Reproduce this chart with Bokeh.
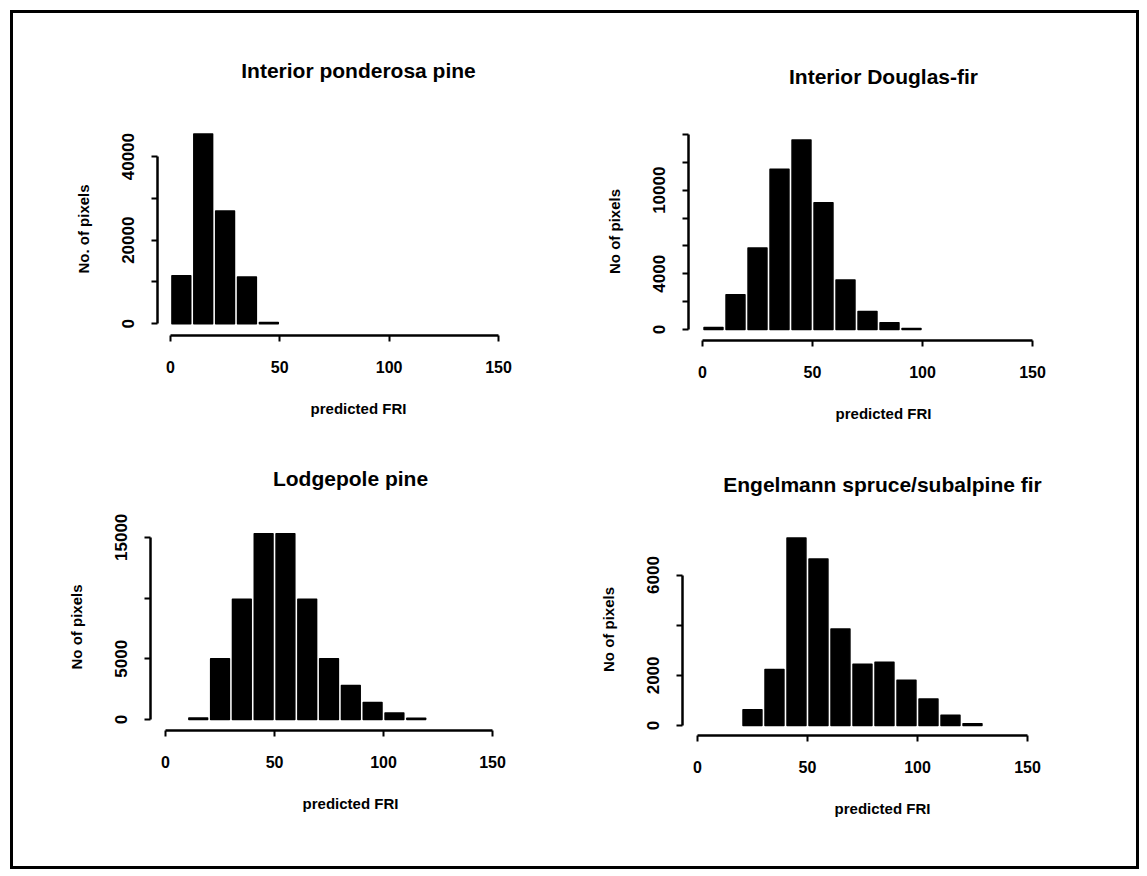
from bokeh.plotting import figure
from bokeh.layouts import column, row
from bokeh.models import FixedTicker, Range1d
from bokeh.embed import file_html
from bokeh.resources import INLINE

# ---- data ----
bin_width = 10
x_ticks = [0, 50, 100, 150]

pp_title = "Interior ponderosa pine"
pp_ylabel = "No. of pixels"
pp_lefts = [0, 10, 20, 30, 40]
pp_counts = [11500, 45400, 27000, 11200, 300]
pp_yticks = [0, 10000, 20000, 30000, 40000]
pp_ylabels = [0, 20000, 40000]

df_title = "Interior Douglas-fir"
df_ylabel = "No of pixels"
df_lefts = [0, 10, 20, 30, 40, 50, 60, 70, 80, 90]
df_counts = [150, 2500, 5850, 11500, 13600, 9100, 3550, 1300, 480, 80]
df_yticks = [0, 2000, 4000, 6000, 8000, 10000, 12000, 14000]
df_ylabels = [0, 4000, 10000]

lp_title = "Lodgepole pine"
lp_ylabel = "No of pixels"
lp_lefts = [10, 20, 30, 40, 50, 60, 70, 80, 90, 100, 110]
lp_counts = [130, 5000, 9900, 15300, 15300, 9900, 5000, 2800, 1400, 540, 100]
lp_yticks = [0, 5000, 10000, 15000]
lp_ylabels = [0, 5000, 15000]

es_title = "Engelmann spruce/subalpine fir"
es_ylabel = "No of pixels"
es_lefts = [20, 30, 40, 50, 60, 70, 80, 90, 100, 110, 120]
es_counts = [630, 2240, 7480, 6640, 3850, 2440, 2520, 1810, 1060, 410, 70]
es_yticks = [0, 2000, 4000, 6000]
es_ylabels = [0, 2000, 6000]

xlabel = "predicted FRI"

FONT = "Liberation Sans"
GAP = 0.7  # visual gap between adjacent bars, in x units


def panel(title, ylabel, lefts, counts, yticks, ylabels, xr, yr, w, h, mb, tstand):
    p = figure(width=w, height=h, x_range=Range1d(*xr), y_range=Range1d(*yr),
               output_backend="svg", toolbar_location=None, title=title,
               min_border_left=mb[0], min_border_right=mb[1],
               min_border_top=mb[2], min_border_bottom=mb[3])
    qleft = [l + GAP for l in lefts]
    qright = [l + bin_width - GAP for l in lefts]
    p.quad(left=qleft, right=qright, bottom=0, top=counts,
           fill_color="black", line_color="black", line_width=1.5,
           line_join="round")
    p.grid.visible = False
    p.outline_line_color = None
    p.background_fill_color = "white"
    p.border_fill_color = "white"

    p.title.text_font = FONT
    p.title.text_font_size = "21px"
    p.title.text_font_style = "bold"
    p.title.align = "center"
    p.title.text_color = "black"
    p.title.standoff = tstand

    for ax in (p.xaxis[0], p.yaxis[0]):
        ax.axis_line_width = 2.5
        ax.axis_line_color = "black"
        ax.major_tick_line_width = 2
        ax.major_tick_line_color = "black"
        ax.major_tick_out = 6
        ax.major_tick_in = 0
        ax.minor_tick_line_color = None
        ax.major_label_text_font = FONT
        ax.major_label_text_font_style = "bold"
        ax.major_label_text_color = "black"
        ax.axis_label_text_font = FONT
        ax.axis_label_text_font_style = "bold"
        ax.axis_label_text_font_size = "15px"
        ax.axis_label_text_color = "black"

    xa = p.xaxis[0]
    xa.bounds = (0, 150)
    xa.ticker = FixedTicker(ticks=x_ticks)
    xa.major_label_text_font_size = "16px"
    xa.major_label_standoff = 19
    xa.axis_label = xlabel
    xa.axis_label_standoff = 24

    ya = p.yaxis[0]
    ya.bounds = (0, yticks[-1])
    ya.ticker = FixedTicker(ticks=yticks)
    ya.major_label_overrides = {t: (str(t) if t in ylabels else "") for t in yticks}
    ya.major_label_orientation = "vertical"
    ya.major_label_text_font_size = "17px"
    ya.major_label_standoff = 17
    ya.axis_label = ylabel
    ya.axis_label_standoff = 28
    return p


p1 = panel(pp_title, pp_ylabel, pp_lefts, pp_counts, pp_yticks, pp_ylabels,
           (-5.9, 177.9), (-2800, 48160), 558, 412, (144, 12, 109, 90), 82)
p2 = panel(df_title, df_ylabel, df_lefts, df_counts, df_yticks, df_ylabels,
           (-6.36, 170.9), (-790, 14860), 565, 417, (117, 58, 109, 90), 70)
p3 = panel(lp_title, lp_ylabel, lp_lefts, lp_counts, lp_yticks, lp_ylabels,
           (-6.9, 176.6), (-900, 16137), 558, 431, (137, 21, 91, 131), 68)
p4 = panel(es_title, es_ylabel, es_lefts, es_counts, es_yticks, es_ylabels,
           (-6.8, 175.0), (-395, 8054), 565, 436, (111, 54, 91, 131), 56)

layout = column(row(p1, p2), row(p3, p4))
layout.styles = {"border": "3px solid black", "margin": "10px 0 0 10px"}

open("out.html", "w").write(file_html(layout, INLINE))
